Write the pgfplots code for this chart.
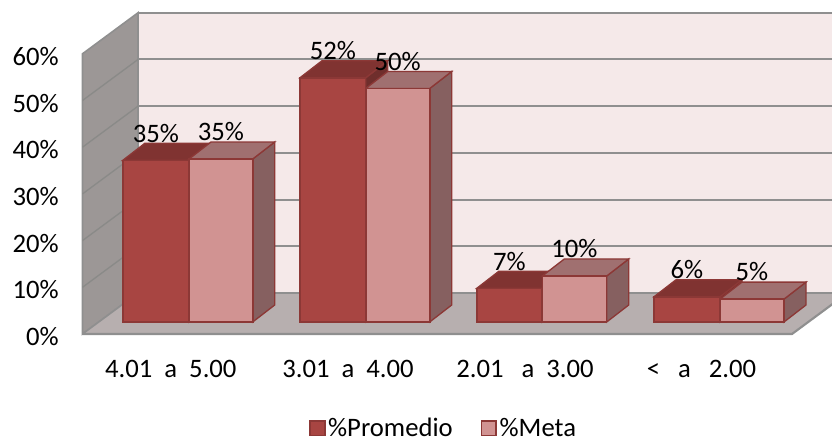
\documentclass[border=0pt]{standalone}
\usepackage{fontspec}
\setmainfont{Carlito}
\usepackage{pgfplots}
\pgfplotsset{compat=1.18}
\definecolor{wallback}{HTML}{F5E9E9}
\definecolor{wallleft}{HTML}{9C9796}
\definecolor{floorc}{HTML}{B7AFAF}
\definecolor{gridc}{HTML}{8F8F8F}
\definecolor{gridl}{HTML}{8A8A88}
\definecolor{darkf}{HTML}{A84542}
\definecolor{darkt}{HTML}{803331}
\definecolor{darks}{HTML}{6F2E2C}
\definecolor{lightf}{HTML}{D19392}
\definecolor{lightt}{HTML}{A07070}
\definecolor{lights}{HTML}{866060}
\definecolor{edged}{HTML}{8C3836}
\begin{document}
\begin{tikzpicture}
\path[use as bounding box] (0,0) rectangle (624pt,328.5pt);
\begin{axis}[
  at={(0,0)}, anchor=south west,
  scale only axis, width=624pt, height=328.5pt,
  xmin=0, xmax=832, ymin=-24.84, ymax=68.95,
  axis line style={draw=none}, tick style={draw=none},
  xtick={170.8,348,525,701.5},
  xticklabels={4.01\ \ a\ \ 5.00, 3.01\ \ a\ \ 4.00, 2.01\ \ \ a\ \ 3.00, <\ \ \ a\ \ \ 2.00},
  ytick={-2.57,7.43,17.43,27.43,37.43,47.43,57.43},
  yticklabels={0\%,10\%,20\%,30\%,40\%,50\%,60\%},
  x tick label style={anchor=center,font=\fontsize{20}{22}\selectfont,yshift=52pt},
  y tick label style={anchor=east,font=\fontsize{20}{22}\selectfont,xshift=47.5pt,yshift=-2pt},
  legend style={at={(0.5336,0.0225)},anchor=center,draw=none,fill=none,
    font=\fontsize{20}{22}\selectfont,legend columns=2,
    /tikz/every even column/.style={column sep=19pt}},
  every node near coord/.append style={anchor=center,yshift=20.5pt,font=\fontsize{20}{22}\selectfont,text=black},
]
% back wall and floor
\addplot[forget plot,fill=wallback,draw=none] coordinates {(138,6.21)(847.5,6.21)(847.5,66.21)(138,66.21)} --cycle;
\addplot[forget plot,fill=wallleft,draw=gridc,line width=1.2pt] coordinates {(82.5,-2.57)(138,6.21)(138,66.21)(82.5,57.43)} --cycle;
\addplot[forget plot,fill=floorc,draw=none] coordinates {(82.5,-2.57)(792,-2.57)(847.5,6.21)(138,6.21)} --cycle;
% back wall grid
\addplot[forget plot,gridc,line width=1.5pt] coordinates {(138,6.21)(832,6.21)};
\addplot[forget plot,gridc,line width=1.5pt] coordinates {(138,16.21)(832,16.21)};
\addplot[forget plot,gridc,line width=1.5pt] coordinates {(138,26.21)(832,26.21)};
\addplot[forget plot,gridc,line width=1.5pt] coordinates {(138,36.21)(832,36.21)};
\addplot[forget plot,gridc,line width=1.5pt] coordinates {(138,46.21)(832,46.21)};
\addplot[forget plot,gridc,line width=1.5pt] coordinates {(138,56.21)(832,56.21)};
\addplot[forget plot,gridc,line width=1.5pt] coordinates {(138,66.21)(832,66.21)};
% left wall grid
\addplot[forget plot,gridl,line width=1pt] coordinates {(82.5,7.43)(138,16.21)};
\addplot[forget plot,gridl,line width=1pt] coordinates {(82.5,17.43)(138,26.21)};
\addplot[forget plot,gridl,line width=1pt] coordinates {(82.5,27.43)(138,36.21)};
\addplot[forget plot,gridl,line width=1pt] coordinates {(82.5,37.43)(138,46.21)};
\addplot[forget plot,gridl,line width=1pt] coordinates {(82.5,47.43)(138,56.21)};
% floor front edge
\addplot[forget plot,gridc,line width=1.6pt] coordinates {(82.5,-2.57)(792,-2.57)(847.5,6.21)};
\addplot[forget plot,gridc,line width=1.2pt] coordinates {(82.5,-2.57)(138,6.21)};
% dark bars: sides and tops
\addplot[forget plot,fill=darks,draw=edged,line width=1pt] coordinates {(189,0)(211,3.64)(211,38.24)(189,34.6)} --cycle;
\addplot[forget plot,fill=darkt,draw=edged,line width=1pt] coordinates {(122.7,34.6)(189,34.6)(211,38.24)(144.7,38.24)} --cycle;
\addplot[forget plot,fill=darks,draw=edged,line width=1pt] coordinates {(365.7,0)(387.7,3.64)(387.7,55.94)(365.7,52.3)} --cycle;
\addplot[forget plot,fill=darkt,draw=edged,line width=1pt] coordinates {(300,52.3)(365.7,52.3)(387.7,55.94)(322,55.94)} --cycle;
\addplot[forget plot,fill=darks,draw=edged,line width=1pt] coordinates {(542.3,0)(564.3,3.64)(564.3,10.84)(542.3,7.2)} --cycle;
\addplot[forget plot,fill=darkt,draw=edged,line width=1pt] coordinates {(476.7,7.2)(542.3,7.2)(564.3,10.84)(498.7,10.84)} --cycle;
\addplot[forget plot,fill=darks,draw=edged,line width=1pt] coordinates {(720,0)(742,3.64)(742,9.04)(720,5.4)} --cycle;
\addplot[forget plot,fill=darkt,draw=edged,line width=1pt] coordinates {(654,5.4)(720,5.4)(742,9.04)(676,9.04)} --cycle;
% light bars: sides and tops
\addplot[forget plot,fill=lights,draw=edged,line width=1pt] coordinates {(252.7,0)(274.7,3.64)(274.7,38.54)(252.7,34.9)} --cycle;
\addplot[forget plot,fill=lightt,draw=edged,line width=1pt] coordinates {(189,34.9)(252.7,34.9)(274.7,38.54)(211,38.54)} --cycle;
\addplot[forget plot,fill=lights,draw=edged,line width=1pt] coordinates {(429.7,0)(451.7,3.64)(451.7,53.64)(429.7,50)} --cycle;
\addplot[forget plot,fill=lightt,draw=edged,line width=1pt] coordinates {(365.7,50)(429.7,50)(451.7,53.64)(387.7,53.64)} --cycle;
\addplot[forget plot,fill=lights,draw=edged,line width=1pt] coordinates {(606.7,0)(628.7,3.64)(628.7,13.49)(606.7,9.85)} --cycle;
\addplot[forget plot,fill=lightt,draw=edged,line width=1pt] coordinates {(542.3,9.85)(606.7,9.85)(628.7,13.49)(564.3,13.49)} --cycle;
\addplot[forget plot,fill=lights,draw=edged,line width=1pt] coordinates {(784,0)(806,3.64)(806,8.54)(784,4.9)} --cycle;
\addplot[forget plot,fill=lightt,draw=edged,line width=1pt] coordinates {(720,4.9)(784,4.9)(806,8.54)(742,8.54)} --cycle;
% front faces, the data
\addplot[ybar,bar width=65.5,bar shift=0pt,fill=darkf,draw=edged,line width=1.2pt,
  legend image code/.code={\draw[fill=darkf,draw=edged,line width=1.2pt] (0pt,-5.5pt) rectangle (11pt,5.5pt);},
  point meta=explicit symbolic,nodes near coords]
  coordinates {(155.85,34.6)[35\%] (332.85,52.3)[52\%] (509.5,7.2)[7\%] (687,5.4)[6\%]};
\addlegendentry{\%Promedio}
\addplot[ybar,bar width=64,bar shift=0pt,fill=lightf,draw=edged,line width=1.2pt,
  legend image code/.code={\draw[fill=lightf,draw=edged,line width=1.2pt] (0pt,-5.5pt) rectangle (11pt,5.5pt);},
  point meta=explicit symbolic,nodes near coords]
  coordinates {(220.85,34.9)[35\%] (397.7,50)[50\%] (574.5,9.85)[10\%] (752,4.9)[5\%]};
\addlegendentry{\%Meta}
\end{axis}
\end{tikzpicture}
\end{document}
